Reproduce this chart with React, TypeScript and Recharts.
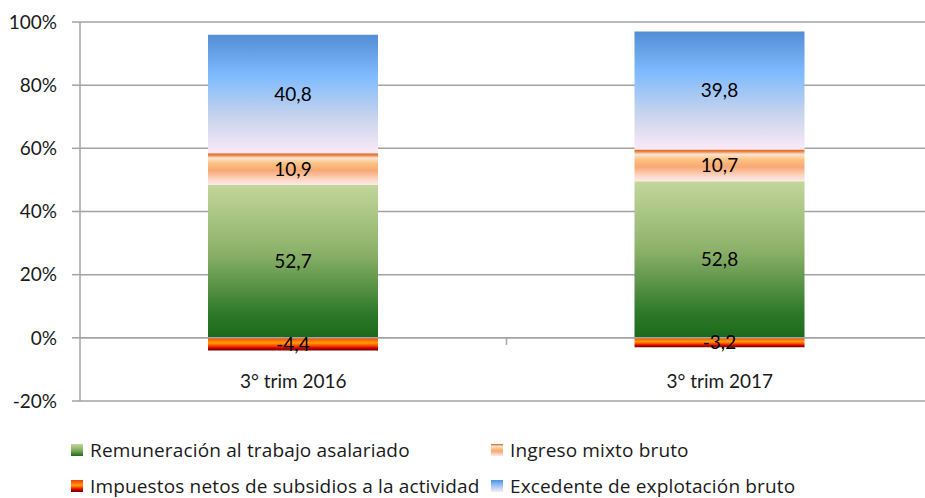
import React from 'react';
import { BarChart, Bar, XAxis, YAxis, CartesianGrid, LabelList, ReferenceLine } from 'recharts';

const categories = ['3° trim 2016', '3° trim 2017'];
const remuneracion = [52.7, 52.8];
const ingresoMixto = [10.9, 10.7];
const impuestos = [-4.4, -3.2];
const excedente = [40.8, 39.8];
const yTicks = [-20, 0, 20, 40, 60, 80, 100];

const FONT = 'Lato, "Liberation Sans", sans-serif';
const LEGEND_FONT = '"Open Sans", Lato, sans-serif';

// Excel 100% stacked column: each share is value / sum of absolute values
const data = categories.map((c, i) => {
  const total =
    Math.abs(remuneracion[i]) + Math.abs(ingresoMixto[i]) + Math.abs(impuestos[i]) + Math.abs(excedente[i]);
  return {
    name: c,
    rem: (remuneracion[i] / total) * 100,
    ing: (ingresoMixto[i] / total) * 100,
    imp: (impuestos[i] / total) * 100,
    exc: (excedente[i] / total) * 100,
    remRaw: remuneracion[i],
    ingRaw: ingresoMixto[i],
    impRaw: impuestos[i],
    excRaw: excedente[i],
  };
});

const fmt = (v: any) => Number(v).toFixed(1).replace('.', ',');

const GRID = '#a3a3a3';

const CatTick = (props: any) => {
  const { x, y, payload } = props;
  return (
    <text x={x} y={y - 21} textAnchor="middle" dominantBaseline="central" fontFamily={FONT} fontSize={19} fill="#1a1a1a">
      {payload.value}
    </text>
  );
};

const ZeroTick = (props: any) => {
  const vb = props.viewBox || {};
  const mx = vb.x + vb.width / 2;
  return <line x1={mx} x2={mx} y1={vb.y} y2={vb.y + 7} stroke={GRID} strokeWidth={1.5} />;
};

const legendItems = [
  { label: 'Remuneración al trabajo asalariado', bg: 'linear-gradient(#c3d69b, #7fa85a 55%, #1a6a1a)' },
  { label: 'Ingreso mixto bruto', bg: 'linear-gradient(#d9600f, #fde5d3 20%, #fbc27f 40%, #f9a776 60%, #fcd3ba 85%, #fde9ec)' },
  { label: 'Impuestos netos de subsidios a la actividad', bg: 'linear-gradient(#e04020, #ff7000 25%, #ffa000 45%, #ff5000 60%, #d00000 80%, #700000)' },
  { label: 'Excedente de explotación bruto', bg: 'linear-gradient(#538dd5, #7fbbfd 35%, #c8d4ec 70%, #fae9f7)' },
];

export default function App() {
  return (
    <div style={{ position: 'absolute', left: 0, top: 0, width: 925, height: 498, overflow: 'hidden', background: '#fff' }}>
      <BarChart
        width={940}
        height={498}
        data={data}
        stackOffset="sign"
        margin={{ top: 22, right: 7, left: 0, bottom: 67 }}
        barSize={170}
      >
        <defs>
          <linearGradient id="gGreen" x1="0" y1="0" x2="0" y2="1">
            <stop offset="0" stopColor="#c3d69b" />
            <stop offset="0.45" stopColor="#8ab068" />
            <stop offset="0.85" stopColor="#2c7828" />
            <stop offset="1" stopColor="#1a6a1a" />
          </linearGradient>
          <linearGradient id="gOrange" x1="0" y1="0" x2="0" y2="1">
            <stop offset="0" stopColor="#d9600f" />
            <stop offset="0.07" stopColor="#e98a50" />
            <stop offset="0.15" stopColor="#fde5d3" />
            <stop offset="0.32" stopColor="#fbc27f" />
            <stop offset="0.55" stopColor="#f9a776" />
            <stop offset="0.8" stopColor="#fcd3ba" />
            <stop offset="1" stopColor="#fde9ec" />
          </linearGradient>
          <linearGradient id="gRed" x1="0" y1="0" x2="0" y2="1">
            <stop offset="0" stopColor="#e04020" />
            <stop offset="0.2" stopColor="#ff7000" />
            <stop offset="0.4" stopColor="#ffa000" />
            <stop offset="0.6" stopColor="#ff5000" />
            <stop offset="0.8" stopColor="#d00000" />
            <stop offset="1" stopColor="#700000" />
          </linearGradient>
          <linearGradient id="gBlue" x1="0" y1="0" x2="0" y2="1">
            <stop offset="0" stopColor="#538dd5" />
            <stop offset="0.35" stopColor="#7fbbfd" />
            <stop offset="0.7" stopColor="#c8d4ec" />
            <stop offset="1" stopColor="#fae9f7" />
          </linearGradient>
        </defs>
        <CartesianGrid vertical={false} stroke={GRID} strokeWidth={1.5} />
        <XAxis
          dataKey="name"
          axisLine={false}
          tickLine={false}
          tickSize={0}
          tickMargin={0}
          height={30}
          tick={<CatTick />}
          interval={0}
        />
        <YAxis
          domain={[-20, 100]}
          ticks={yTicks}
          width={80}
          tickFormatter={(v: number) => `${v}%`}
          axisLine={{ stroke: GRID, strokeWidth: 1.5 }}
          tickLine={{ stroke: GRID, strokeWidth: 1.5 }}
          tickSize={8}
          tickMargin={15}
          tick={{ fontFamily: FONT, fontSize: 19, fill: '#1a1a1a' }}
          allowDataOverflow
        />
        <Bar dataKey="rem" stackId="a" fill="url(#gGreen)" isAnimationActive={false}>
          <LabelList dataKey="remRaw" position="center" formatter={fmt} fill="#000" fontFamily={FONT} fontSize={19} />
        </Bar>
        <Bar dataKey="ing" stackId="a" fill="url(#gOrange)" isAnimationActive={false}>
          <LabelList dataKey="ingRaw" position="center" formatter={fmt} fill="#000" fontFamily={FONT} fontSize={19} />
        </Bar>
        <Bar dataKey="exc" stackId="a" fill="url(#gBlue)" isAnimationActive={false}>
          <LabelList dataKey="excRaw" position="center" formatter={fmt} fill="#000" fontFamily={FONT} fontSize={19} />
        </Bar>
        <Bar dataKey="imp" stackId="a" fill="url(#gRed)" isAnimationActive={false}>
          <LabelList dataKey="impRaw" position="center" formatter={fmt} fill="#000" fontFamily={FONT} fontSize={19} />
        </Bar>
        <ReferenceLine y={0} stroke={GRID} strokeWidth={1.5} label={<ZeroTick />} />
      </BarChart>
      <div
        style={{
          position: 'absolute',
          left: 71,
          top: 439,
          display: 'grid',
          gridTemplateColumns: '420px 420px',
          rowGap: 14,
          fontFamily: LEGEND_FONT,
          fontSize: 19,
          letterSpacing: '0.15px',
          color: '#1a1a1a',
          lineHeight: '22px',
        }}
      >
        {legendItems.map((it) => (
          <div key={it.label} style={{ display: 'flex', alignItems: 'center', whiteSpace: 'nowrap' }}>
            <span style={{ display: 'inline-block', width: 12, height: 12, background: it.bg, marginRight: 7 }} />
            <span>{it.label}</span>
          </div>
        ))}
      </div>
    </div>
  );
}
